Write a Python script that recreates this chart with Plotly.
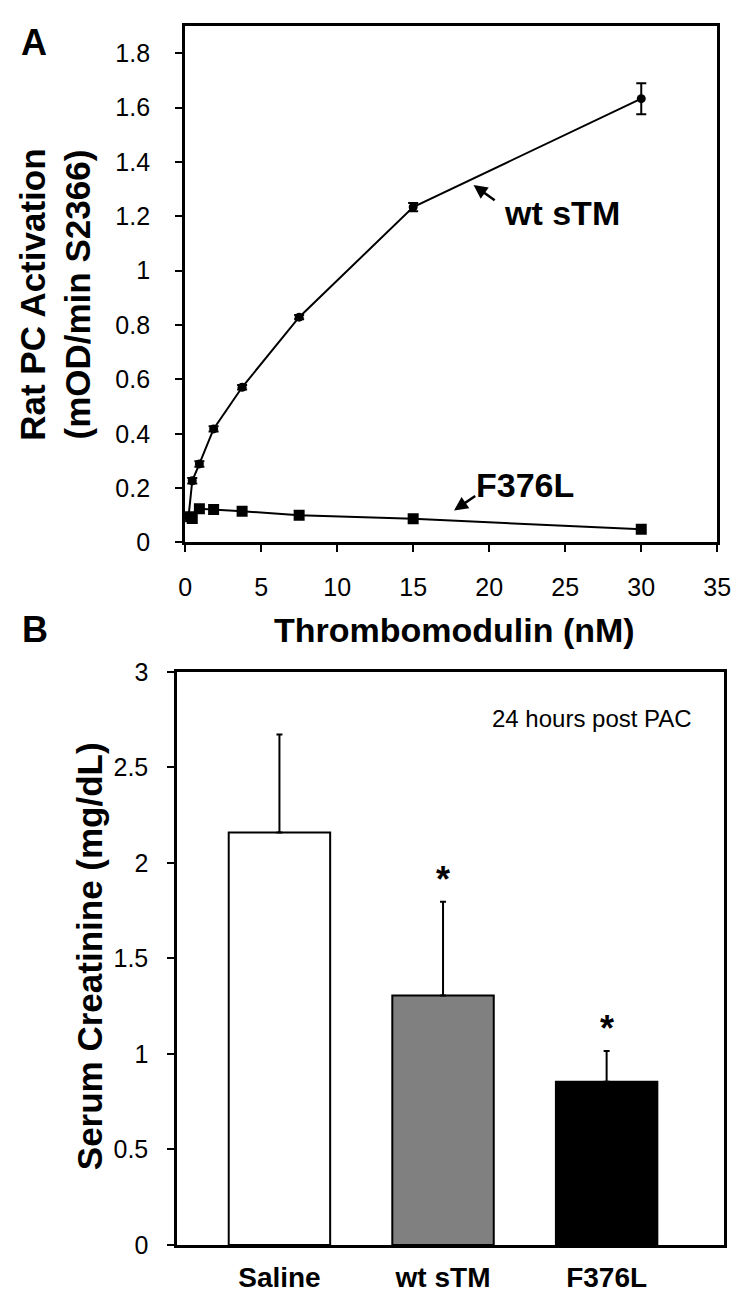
import plotly.graph_objects as go

# ---------------- Panel A data ----------------
tm_nM = [0.23, 0.47, 0.94, 1.875, 3.75, 7.5, 15, 30]
wt_activation = [0.097, 0.227, 0.289, 0.418, 0.571, 0.829, 1.234, 1.633]
wt_err = [0.008, 0.01, 0.01, 0.01, 0.008, 0.008, 0.015, 0.057]
f376l_activation = [0.095, 0.088, 0.124, 0.121, 0.115, 0.100, 0.087, 0.049]
f376l_err = [0.006, 0.006, 0.006, 0.006, 0.006, 0.006, 0.006, 0.01]

# ---------------- Panel B data ----------------
groups = ["Saline", "wt sTM", "F376L"]
creatinine = [2.16, 1.306, 0.854]
creatinine_err = [0.512, 0.491, 0.162]
bar_colors = ["#ffffff", "#808080", "#000000"]
significant = [False, True, True]

W, H = 750, 1294
FONT = "Arial, Liberation Sans, sans-serif"

def px(x):
    return x / W

def py(y):
    return 1 - y / H

fig = go.Figure()

fig.add_trace(go.Scatter(
    x=tm_nM, y=wt_activation, mode="lines+markers", name="wt sTM",
    line=dict(color="black", width=2),
    marker=dict(symbol="circle", size=9, color="black"),
    error_y=dict(type="data", array=wt_err, color="black", thickness=2, width=5),
    xaxis="x", yaxis="y", showlegend=False))

fig.add_trace(go.Scatter(
    x=tm_nM, y=f376l_activation, mode="lines+markers", name="F376L",
    line=dict(color="black", width=2),
    marker=dict(symbol="square", size=11, color="black"),
    error_y=dict(type="data", array=f376l_err, color="black", thickness=2, width=4),
    xaxis="x", yaxis="y", showlegend=False))

fig.add_trace(go.Bar(
    x=list(range(len(groups))), y=creatinine, width=0.62,
    marker=dict(color=bar_colors, line=dict(color="black", width=2)),
    error_y=dict(type="data", array=creatinine_err, arrayminus=[0] * len(groups),
                 symmetric=False, color="black", thickness=2, width=3),
    xaxis="x2", yaxis="y2", showlegend=False))

# y geometry for panel A: 0 at 532 px, 0.2 per 55.6 px
a_top_val = 1.9
a_y0 = 532
a_ppu = 277.8
a_top_px = a_y0 - a_top_val * a_ppu

# panel B: 0 at 1250, 3 at 664.3
b_y0, b_y3 = 1250, 664.3

axis_common = dict(showline=True, linecolor="black", mirror=True, showgrid=False,
                   zeroline=False, ticks="outside", tickcolor="black", tickwidth=2,
                   ticklen=7, tickfont=dict(family=FONT, size=25, color="black"))

fig.update_layout(
    width=W, height=H, margin=dict(l=0, r=0, t=0, b=0),
    paper_bgcolor="white", plot_bgcolor="white",
    xaxis=dict(domain=[px(175), px(722.5)], range=[0, 35], dtick=5, anchor="y",
               linewidth=3, ticklabelstandoff=14, **axis_common),
    yaxis=dict(domain=[py(a_y0), py(a_top_px)], range=[0, a_top_val], dtick=0.2,
               anchor="x", linewidth=3, ticklabelstandoff=20, **axis_common),
    xaxis2=dict(domain=[px(166.7), px(729)], range=[-0.626, 2.715], anchor="y2",
                tickmode="array", tickvals=list(range(len(groups))), ticktext=groups,
                showline=True, linecolor="black", linewidth=2.5, mirror=True,
                showgrid=False, zeroline=False, ticks="",
                tickfont=dict(family=FONT, size=28, color="black", weight="bold"),
                ticklabelstandoff=6),
    yaxis2=dict(domain=[py(b_y0), py(b_y3)], range=[0, 3], dtick=0.5, anchor="x2",
                linewidth=2.5, ticklabelstandoff=14, **axis_common),
)

annotations = []
# Panel letters
annotations.append(dict(text="<b>A</b>", x=px(20), y=py(21), xref="paper", yref="paper",
                        showarrow=False, font=dict(family=FONT, size=36, color="black"),
                        xanchor="center", yanchor="middle"))
annotations.append(dict(text="<b>B</b>", x=px(21), y=py(621), xref="paper", yref="paper",
                        showarrow=False, font=dict(family=FONT, size=36, color="black"),
                        xanchor="center", yanchor="middle"))
# Axis titles
annotations.append(dict(text="<b>Rat PC Activation<br>(mOD/min S2366)</b>", x=px(42), y=py(279),
                        xref="paper", yref="paper", showarrow=False, textangle=-90,
                        font=dict(family=FONT, size=35, color="black"),
                        xanchor="center", yanchor="middle"))
annotations.append(dict(text="<b>Thrombomodulin (nM)</b>", x=px(452), y=py(621),
                        xref="paper", yref="paper", showarrow=False,
                        font=dict(family=FONT, size=34, color="black"),
                        xanchor="center", yanchor="middle"))
annotations.append(dict(text="<b>Serum Creatinine (mg/dL)</b>", x=px(76), y=py(955),
                        xref="paper", yref="paper", showarrow=False, textangle=-90,
                        font=dict(family=FONT, size=35, color="black"),
                        xanchor="center", yanchor="middle"))
# Series labels with arrows (panel A)
annotations.append(dict(text="<b>wt sTM</b>", x=24.77, y=1.213, xref="x", yref="y",
                        showarrow=False, font=dict(family=FONT, size=34, color="black"),
                        xanchor="center", yanchor="middle"))
annotations.append(dict(text="", x=18.97, y=1.315, ax=20.46, ay=1.255, xref="x", yref="y",
                        axref="x", ayref="y", showarrow=True, arrowhead=2, arrowsize=1.1,
                        arrowwidth=2.5, arrowcolor="black"))
annotations.append(dict(text="<b>F376L</b>", x=22.37, y=0.211, xref="x", yref="y",
                        showarrow=False, font=dict(family=FONT, size=34, color="black"),
                        xanchor="center", yanchor="middle"))
annotations.append(dict(text="", x=17.69, y=0.118, ax=19.18, ay=0.175, xref="x", yref="y",
                        axref="x", ayref="y", showarrow=True, arrowhead=2, arrowsize=1.1,
                        arrowwidth=2.5, arrowcolor="black"))
# Panel B note
annotations.append(dict(text="24 hours post PAC", x=2.537, y=2.754, xref="x2", yref="y2",
                        showarrow=False, font=dict(family=FONT, size=24, color="black"),
                        xanchor="right", yanchor="middle"))
# Significance asterisks
for i, (v, e, s) in enumerate(zip(creatinine, creatinine_err, significant)):
    if s:
        annotations.append(dict(text="<b>*</b>", x=i, y=v + e, xref="x2", yref="y2",
                                showarrow=False, yshift=22,
                                font=dict(family=FONT, size=36, color="black"),
                                xanchor="center", yanchor="middle"))

fig.update_layout(annotations=annotations)

fig.write_html("out.html")
